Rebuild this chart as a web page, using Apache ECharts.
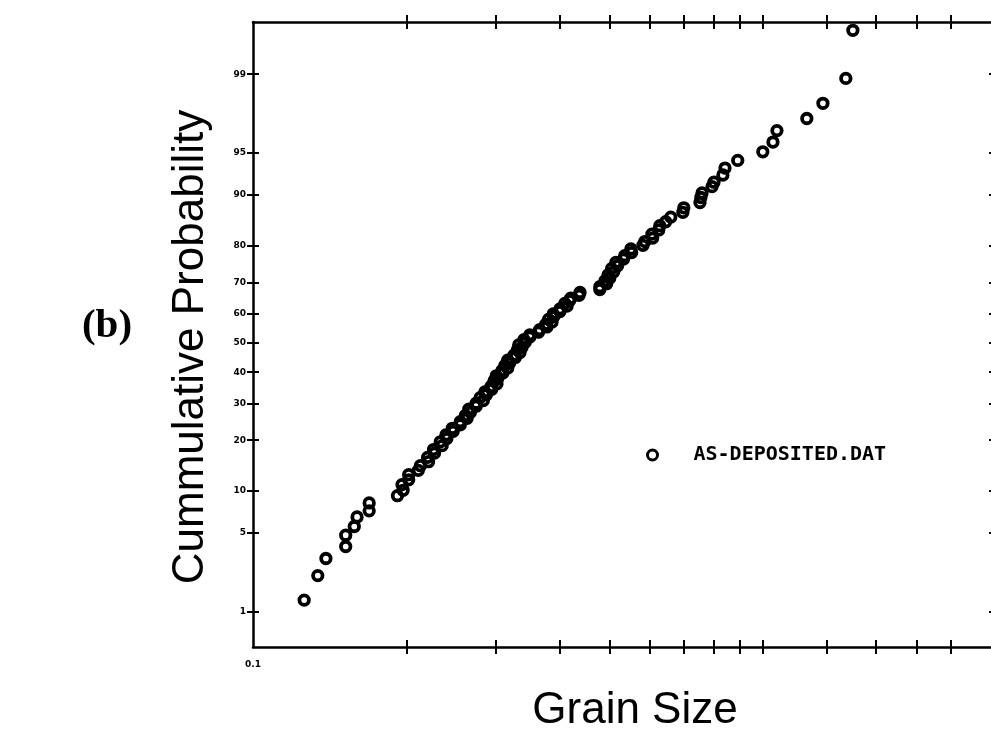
<!DOCTYPE html>
<html>
<head>
<meta charset="utf-8">
<script src="https://cdn.jsdelivr.net/npm/echarts@6/dist/echarts.min.js"></script>
<style>
  html, body { margin: 0; padding: 0; overflow: hidden; background: #fff; }
  #chart { width: 1000px; height: 729px; }
</style>
</head>
<body>
<div id="chart"></div>
<script>
// Grain size (sorted by rank) and the cumulative probability (%) plotted for each grain.
const grainSize = [
  0.126, 0.134, 0.139, 0.152, 0.152, 0.158, 0.160, 0.169, 0.169, 0.192,
  0.197, 0.196, 0.202, 0.202, 0.211, 0.213, 0.221, 0.220, 0.227, 0.226,
  0.235, 0.233, 0.240, 0.239, 0.247, 0.246, 0.255, 0.255, 0.263, 0.261,
  0.267, 0.265, 0.274, 0.274, 0.283, 0.279, 0.287, 0.285, 0.294, 0.293,
  0.301, 0.297, 0.302, 0.300, 0.309, 0.308, 0.316, 0.312, 0.319, 0.316,
  0.327, 0.325, 0.334, 0.330, 0.337, 0.332, 0.342, 0.340, 0.349, 0.349,
  0.363, 0.365, 0.377, 0.375, 0.386, 0.380, 0.389, 0.388, 0.400, 0.400,
  0.413, 0.409, 0.418, 0.420, 0.436, 0.438, 0.479, 0.479, 0.494, 0.490,
  0.501, 0.497, 0.510, 0.505, 0.519, 0.515, 0.533, 0.536, 0.553, 0.551,
  0.582, 0.587, 0.608, 0.606, 0.625, 0.628, 0.645, 0.660, 0.697, 0.700,
  0.753, 0.756, 0.760, 0.795, 0.802, 0.835, 0.843, 0.893, 1.000, 1.047,
  1.066, 1.220, 1.312, 1.455, 1.502
];
const cumProb = [
  1.3, 2.2, 3.1, 3.9, 4.8, 5.6, 6.6, 7.3, 8.3, 9.3,
  10.1, 11.0, 11.8, 12.7, 13.5, 14.4, 15.2, 16.1, 17.0, 17.8,
  18.7, 19.6, 20.4, 21.3, 22.2, 23.0, 23.9, 24.8, 25.7, 26.5,
  27.4, 28.3, 29.2, 30.1, 30.9, 31.8, 32.7, 33.6, 34.4, 35.3,
  36.2, 37.1, 37.9, 38.8, 39.7, 40.6, 41.4, 42.3, 43.2, 44.1,
  45.0, 45.8, 46.7, 47.6, 48.5, 49.3, 50.2, 51.1, 52.0, 52.8,
  53.7, 54.6, 55.5, 56.4, 57.2, 58.1, 59.0, 59.9, 60.7, 61.6,
  62.5, 63.4, 64.3, 65.1, 66.0, 66.9, 67.8, 68.7, 69.6, 70.4,
  71.3, 72.2, 73.1, 74.0, 74.8, 75.7, 76.6, 77.5, 78.3, 79.2,
  80.1, 81.0, 81.8, 82.7, 83.6, 84.5, 85.3, 86.2, 87.1, 87.9,
  88.8, 89.6, 90.3, 91.2, 91.8, 92.7, 93.5, 94.3, 95.1, 95.9,
  96.7, 97.4, 98.1, 98.9, 99.66
];

// Probability-paper ticks (%) and grain-size ticks on the log axis.
const probTicks = [1, 5, 10, 20, 30, 40, 50, 60, 70, 80, 90, 95, 99];
const probTickLabels = ['1', '5', '10', '20', '30', '40', '50', '60', '70', '80', '90', '95', '99'];
const grainTicks = [0.2, 0.3, 0.4, 0.5, 0.6, 0.7, 0.8, 0.9, 1.0, 1.333, 1.667, 2.0, 2.333];
const grainLabelValues = [0.1];
const grainLabels = ['0.1'];

// Axis ranges
const probMin = 0.424, probMax = 99.727;   // percent
const grainMin = 0.1, grainMax = 2.88;

const seriesName = 'AS-DEPOSITED.DAT';

// Inverse standard normal CDF (Acklam) - turns a probability into the
// normal-score coordinate used by the probability axis.
function probit(p) {
  const a = [-3.969683028665376e+01, 2.209460984245205e+02, -2.759285104469687e+02, 1.383577518672690e+02, -3.066479806614716e+01, 2.506628277459239e+00];
  const b = [-5.447609879822406e+01, 1.615858368580409e+02, -1.556989798598866e+02, 6.680131188771972e+01, -1.328068155288572e+01];
  const c = [-7.784894002430293e-03, -3.223964580411365e-01, -2.400758277161838e+00, -2.549732539343734e+00, 4.374664141464968e+00, 2.938163982698783e+00];
  const d = [7.784695709041462e-03, 3.224671290700398e-01, 2.445134137142996e+00, 3.754408661907416e+00];
  const pl = 0.02425, ph = 1 - pl;
  let q, r;
  if (p < pl) {
    q = Math.sqrt(-2 * Math.log(p));
    return (((((c[0]*q+c[1])*q+c[2])*q+c[3])*q+c[4])*q+c[5]) / ((((d[0]*q+d[1])*q+d[2])*q+d[3])*q+1);
  }
  if (p <= ph) {
    q = p - 0.5; r = q * q;
    return (((((a[0]*r+a[1])*r+a[2])*r+a[3])*r+a[4])*r+a[5])*q / (((((b[0]*r+b[1])*r+b[2])*r+b[3])*r+b[4])*r+1);
  }
  q = Math.sqrt(-2 * Math.log(1 - p));
  return -(((((c[0]*q+c[1])*q+c[2])*q+c[3])*q+c[4])*q+c[5]) / ((((d[0]*q+d[1])*q+d[2])*q+d[3])*q+1);
}
const score = pct => probit(pct / 100);

const zMin = score(probMin), zMax = score(probMax);
const zTicks = probTicks.map(score);
const logMin = Math.log10(grainMin), logMax = Math.log10(grainMax);
const logTicks = grainTicks.map(v => Math.log10(v));
const logLabelVals = grainLabelValues.map(v => Math.log10(v));

const BLACK = '#000';
const lineW = 2.5;

// Frame axes: ticks cross the frame line, so each side gets an inner and an outer tick axis.
function frameX(position, inside, withLine, withLabel) {
  return {
    type: 'value', position, min: logMin, max: logMax,
    axisLine: { show: withLine, onZero: false, lineStyle: { color: BLACK, width: lineW } },
    axisTick: { show: true, inside, length: 7, customValues: logTicks, lineStyle: { color: BLACK, width: 2 } },
    axisLabel: withLabel ? {
      show: true, customValues: logLabelVals, margin: 13,
      formatter: v => { const i = logLabelVals.findIndex(t => Math.abs(t - v) < 1e-6); return i >= 0 ? grainLabels[i] : ''; },
      color: BLACK, fontSize: 9, fontWeight: 'bold', fontFamily: 'DejaVu Sans'
    } : { show: false },
    splitLine: { show: false }
  };
}
function frameY(position, inside, withLine, withLabel, len) {
  return {
    type: 'value', position, min: zMin, max: zMax,
    axisLine: { show: withLine, onZero: false, lineStyle: { color: BLACK, width: lineW } },
    axisTick: { show: true, inside, length: len, customValues: zTicks, lineStyle: { color: BLACK, width: 2 } },
    axisLabel: withLabel ? {
      show: true, customValues: zTicks, margin: 7,
      formatter: v => { const i = zTicks.findIndex(t => Math.abs(t - v) < 1e-6); return i >= 0 ? probTickLabels[i] : ''; },
      color: BLACK, fontSize: 9, fontWeight: 'bold', fontFamily: 'DejaVu Sans'
    } : { show: false },
    splitLine: { show: false }
  };
}

const chart = echarts.init(document.getElementById('chart'), null, { renderer: 'canvas' });

chart.setOption({
  backgroundColor: '#fff',
  animation: false,
  grid: { left: 253, right: 3, top: 22, bottom: 82, containLabel: false },
  xAxis: [
    { type: 'log', logBase: 10, min: grainMin, max: grainMax, show: false, axisLine: { onZero: false } },
    frameX('bottom', true, true, true),
    frameX('bottom', false, false, false),
    frameX('top', true, true, false),
    frameX('top', false, false, false)
  ],
  yAxis: [
    frameY('left', true, true, true, 6),
    frameY('left', false, false, false, 6),
    frameY('right', true, true, false, 8)
  ],
  legend: {
    data: [seriesName],
    left: 641, top: 440,
    itemWidth: 10, itemHeight: 10,
    icon: 'circle',
    itemStyle: { color: 'rgba(0,0,0,0)', borderColor: BLACK, borderWidth: 3 },
    textStyle: { color: BLACK, fontFamily: 'DejaVu Sans Mono', fontWeight: 'bold', fontSize: 20, padding: [0, 0, 0, 31] }
  },
  graphic: [
    {
      type: 'text', x: 191, y: 347, rotation: Math.PI / 2,
      style: { text: 'Cummulative Probability', fill: BLACK, font: '44px "Liberation Sans", Arial, sans-serif', textAlign: 'center', textVerticalAlign: 'middle' }
    },
    {
      type: 'text', x: 635, y: 711,
      style: { text: 'Grain Size', fill: BLACK, font: '44px "Liberation Sans", Arial, sans-serif', textAlign: 'center', textVerticalAlign: 'middle' }
    },
    {
      type: 'text', x: 107, y: 326,
      style: { text: '(b)', fill: BLACK, font: 'bold 41px "Liberation Serif", "Times New Roman", serif', textAlign: 'center', textVerticalAlign: 'middle' }
    }
  ],
  series: [{
    name: seriesName,
    type: 'scatter',
    xAxisIndex: 0, yAxisIndex: 0,
    symbol: 'circle', symbolSize: 9.5,
    itemStyle: { color: 'rgba(0,0,0,0)', borderColor: BLACK, borderWidth: 3.8, opacity: 1 },
    emphasis: { disabled: true },
    data: grainSize.map((g, i) => [g, score(cumProb[i])])
  }]
});
</script>
</body>
</html>
